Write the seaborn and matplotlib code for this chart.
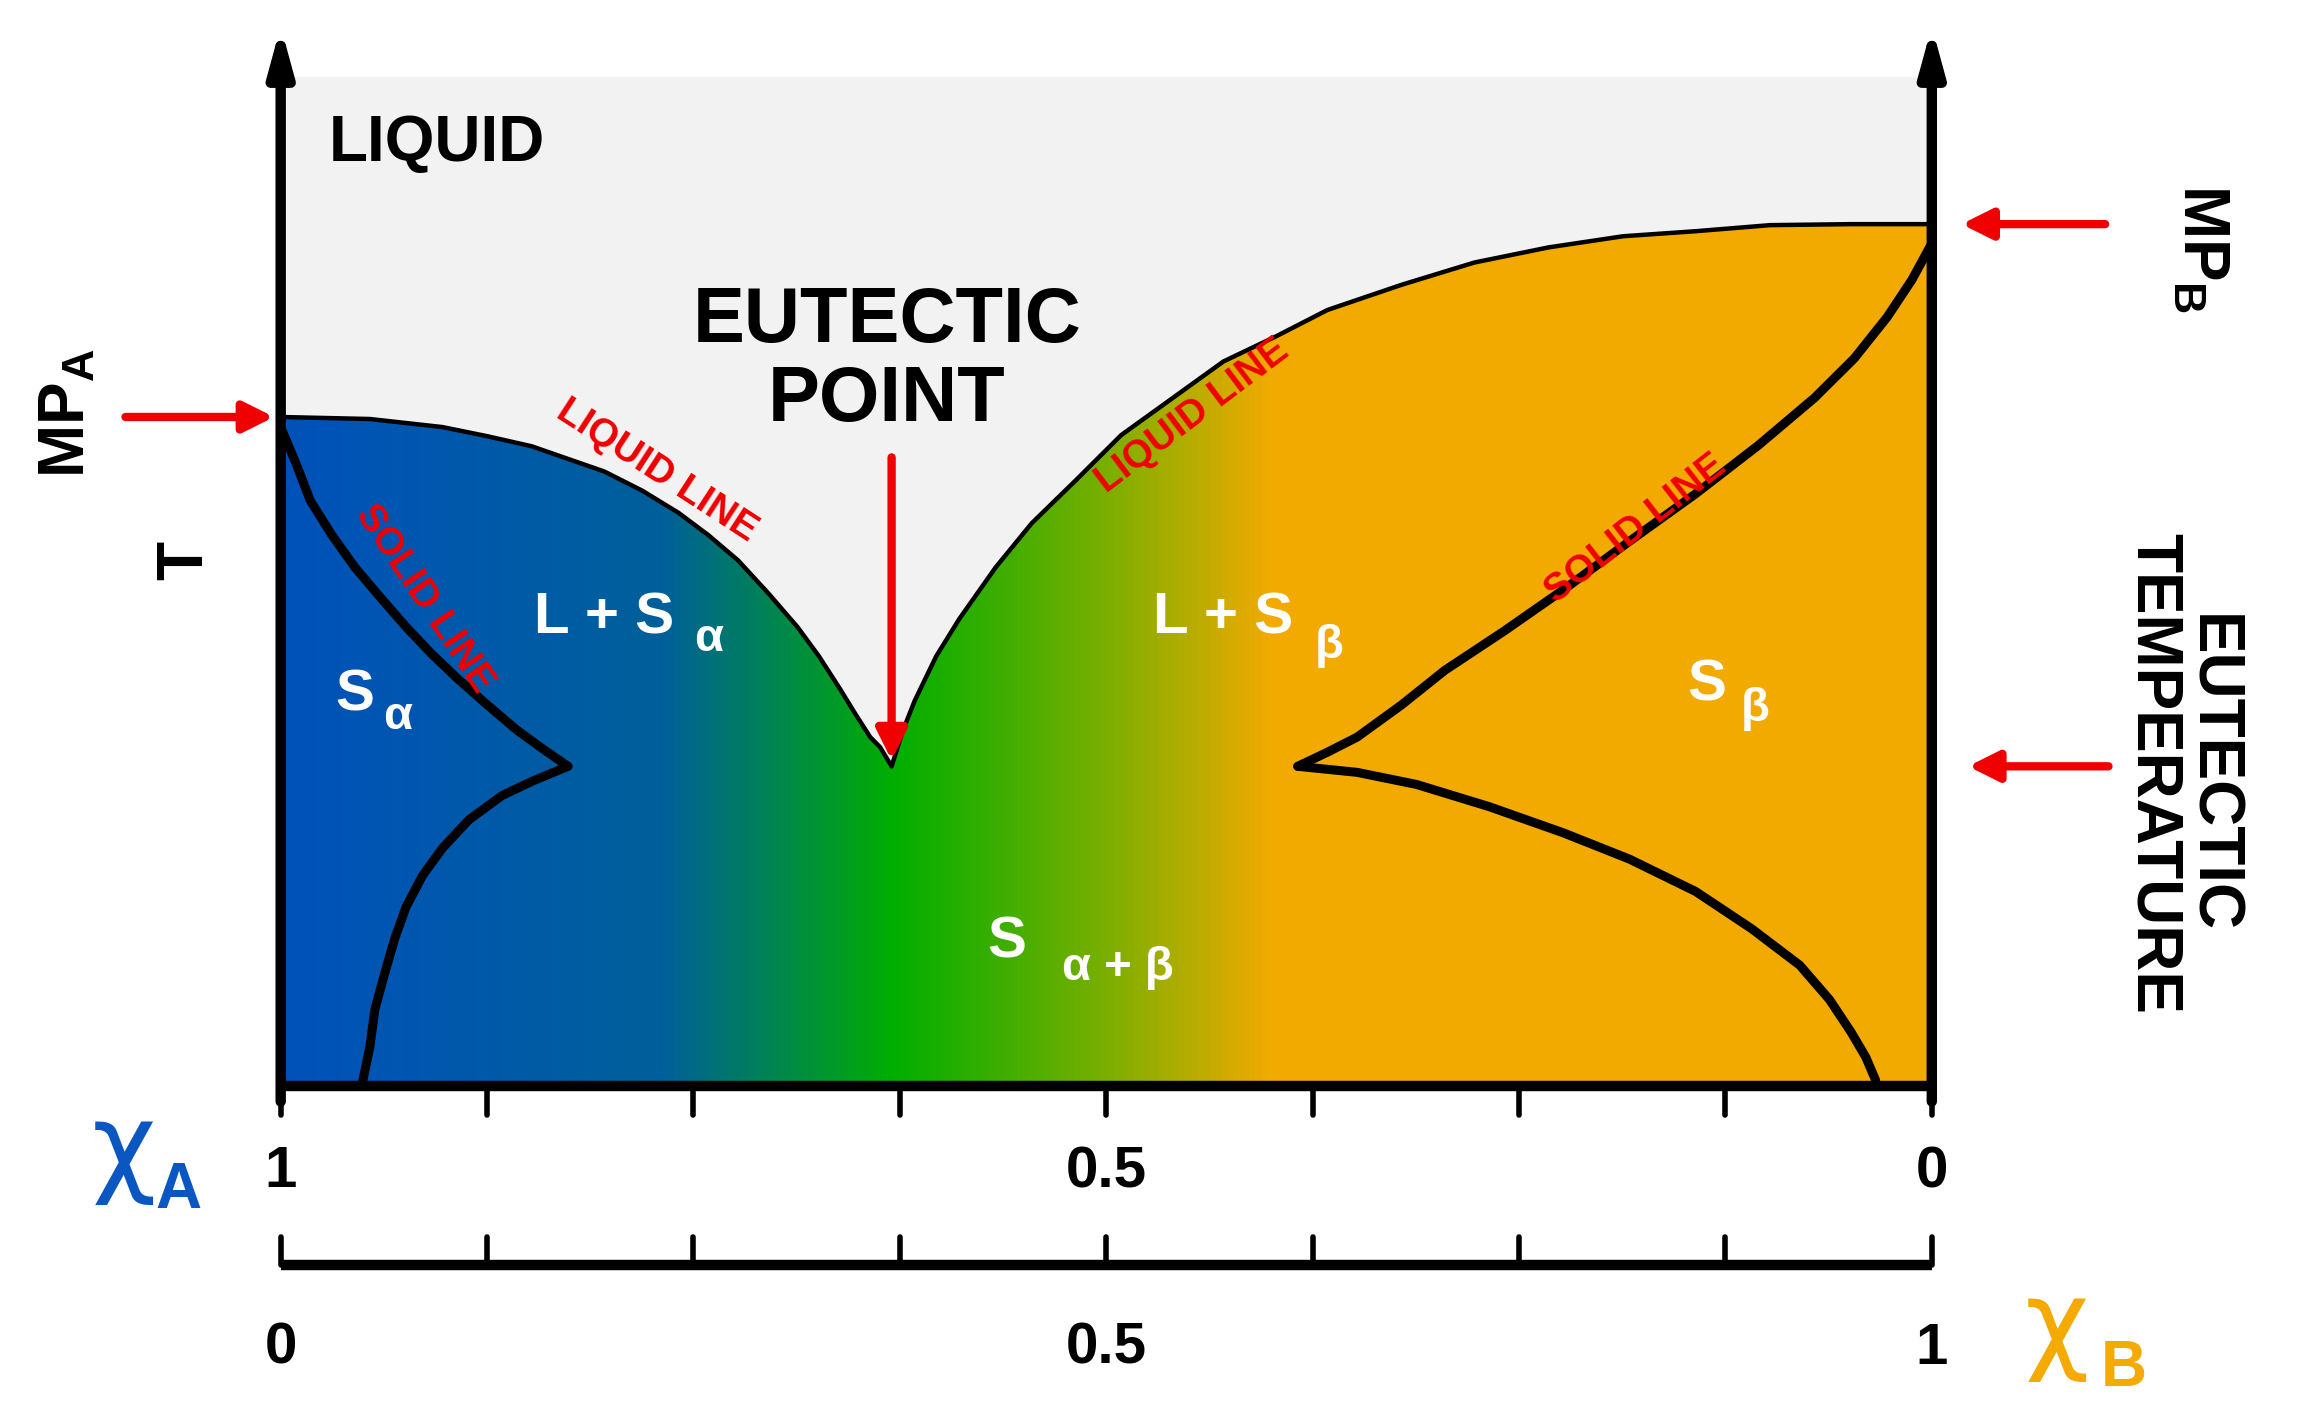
import numpy as np
import pandas as pd
import seaborn as sns
import matplotlib.pyplot as plt
from matplotlib.colors import LinearSegmentedColormap
from matplotlib.patches import Polygon, Rectangle

# phase boundaries, x = mole fraction of B, T in arbitrary units (0 = bottom, 100 = top)
liquid_left_x = [0, .054, .098, .125, .152, .196, .219, .241, .259, .277, .295, .313, .326, .339,
                 .348, .357, .363, .370]
liquid_left_t = [66.3, 66.1, 65.3, 64.4, 63.4, 60.9, 59.0, 56.8, 54.6, 52.1, 48.9, 45.5, 42.6, 39.3,
                 36.9, 34.6, 33.6, 31.7]
liquid_right_x = [.370, .377, .384, .397, .411, .433, .455, .482, .509, .571, .603, .634, .679, .723,
                  .768, .813, .857, .902, .951, 1]
liquid_right_t = [31.7, 35.3, 38.2, 42.6, 46.3, 51.4, 55.8, 60.1, 64.5, 71.8, 74.3, 76.9, 79.4, 81.6,
                  83.1, 84.2, 84.7, 85.3, 85.4, 85.4]
solid_left_x = [0, .009, .018, .031, .045, .060, .076, .091, .107, .125, .143, .159, .174]
solid_left_t = [65.3, 61.8, 58.0, 54.6, 51.4, 48.5, 45.5, 42.9, 40.4, 37.8, 35.3, 33.4, 31.7]
solvus_left_x = [.174, .152, .134, .114, .098, .086, .076, .069, .063, .057, .054, .049]
solvus_left_t = [31.7, 30.2, 28.8, 26.4, 23.6, 20.9, 17.8, 14.6, 11.2, 7.6, 3.9, 0]
solid_right_x = [1, .988, .973, .953, .929, .895, .857, .817, .777, .741, .705, .679, .652, .634, .616]
solid_right_t = [83.5, 79.9, 76.2, 72.1, 68.2, 63.5, 58.7, 54.0, 49.2, 45.1, 41.2, 37.8, 34.6, 33.1, 31.7]
solvus_right_x = [.616, .652, .688, .732, .777, .817, .857, .891, .920, .938, .951, .960, .966]
solvus_right_t = [31.7, 31.1, 29.9, 27.7, 25.1, 22.5, 19.3, 15.6, 12.0, 8.6, 5.4, 2.9, 0.6]

eutectic_x, eutectic_t = .370, 31.7
mp_a, mp_b = 66.3, 85.4
tick_pos = [0, .125, .25, .375, .5, .625, .75, .875, 1]
xa_labels = {0: "1", .5: "0.5", 1: "0"}
xb_labels = {0: "0", .5: "0.5", 1: "1"}

grad_pos = [0, .23, .37, .5, .6, 1]
grad_col = ["#0052ba", "#00609a", "#00ae00", "#7aaf00", "#f2aa00", "#f4aa00"]

sns.set_theme(style="white")
plt.rcParams['font.family'] = ['Liberation Sans', 'DejaVu Sans']
plt.rcParams['font.weight'] = 'bold'
plt.rcParams['text.color'] = 'black'

fig = plt.figure(figsize=(23, 14.15), dpi=100)
ax = fig.add_axes([0, 0, 1, 1])
ax.set_xlim(-0.170, 1.223)
ax.set_ylim(-32.55, 107.6)
ax.axis('off')

# liquid background
ax.add_patch(Rectangle((0, 0), 1, 100, facecolor="#f2f2f2", edgecolor="none", zorder=0))

# gradient under liquidus
cmap = LinearSegmentedColormap.from_list("eut", list(zip(grad_pos, grad_col)))
grad = np.linspace(0, 1, 500).reshape(1, -1)
img = ax.imshow(grad, cmap=cmap, extent=[0, 1, 0, 100], aspect='auto', zorder=1, interpolation='bilinear')
poly_x = liquid_left_x + liquid_right_x[1:] + [1, 0]
poly_t = liquid_left_t + liquid_right_t[1:] + [0, 0]
clip = Polygon(np.column_stack([poly_x, poly_t]), closed=True, transform=ax.transData)
img.set_clip_path(clip)

# boundaries
for xs, ts, lw in [(liquid_left_x, liquid_left_t, 3.2), (liquid_right_x, liquid_right_t, 3.2),
                   (solid_left_x, solid_left_t, 6.5), (solvus_left_x, solvus_left_t, 6.5),
                   (solid_right_x, solid_right_t, 6.5), (solvus_right_x, solvus_right_t, 6.5)]:
    d = pd.DataFrame({"x": xs, "t": ts})
    sns.lineplot(data=d, x="x", y="t", sort=False, color="black", lw=lw, ax=ax, zorder=3,
                 solid_capstyle='round', solid_joinstyle='round')
ax.set_xlabel("")
ax.set_ylabel("")

# frame: bottom axis and two vertical arrows
ax.plot([0, 1], [0, 0], color="black", lw=7.5, zorder=4, solid_capstyle='butt')
for xv in [0, 1]:
    ax.annotate("", xy=(xv, 105), xytext=(xv, -1.5),
                arrowprops=dict(arrowstyle="-|>,head_length=2.2,head_width=0.6", lw=7.5, color="black",
                                shrinkA=0, shrinkB=0), zorder=5)
for tp in tick_pos:
    ax.plot([tp, tp], [0, -2.8], color="black", lw=4, zorder=4)
# second axis
ax.plot([0, 1], [-17.7, -17.7], color="black", lw=7.5, solid_capstyle='butt')
for tp in tick_pos:
    ax.plot([tp, tp], [-17.7, -14.9], color="black", lw=4)
for k, v in xa_labels.items():
    ax.text(k, -8.5, v, ha='center', va='center', fontsize=42, fontweight='bold')
for k, v in xb_labels.items():
    ax.text(k, -26.0, v, ha='center', va='center', fontsize=42, fontweight='bold')
ax.text(-0.095, -6.5, "χ", color="#0b57c2", fontsize=80, ha='center', va='center', fontweight='normal',
        family=['DejaVu Sans'])
ax.text(-0.062, -10.4, "A", color="#0b57c2", fontsize=46, ha='center', va='center')
ax.text(1.076, -24.0, "χ", color="#f4aa00", fontsize=80, ha='center', va='center', fontweight='normal',
        family=['DejaVu Sans'])
ax.text(1.116, -28.0, "B", color="#f4aa00", fontsize=46, ha='center', va='center')

# red arrows
red_arrow = dict(arrowstyle="-|>,head_length=1.5,head_width=0.75", lw=6, color="#f00000",
                 shrinkA=0, shrinkB=0, capstyle='round')
ax.annotate("", xy=(-0.004, mp_a), xytext=(-0.094, mp_a), arrowprops=red_arrow)
ax.annotate("", xy=(1.018, mp_b), xytext=(1.105, mp_b), arrowprops=red_arrow)
ax.annotate("", xy=(1.022, eutectic_t), xytext=(1.107, eutectic_t), arrowprops=red_arrow)
ax.annotate("", xy=(eutectic_x, eutectic_t + 0.6), xytext=(eutectic_x, 62.3), arrowprops=red_arrow, zorder=6)

# labels
ax.text(.029, 93.3, "LIQUID", fontsize=46, va='center', ha='left')
ax.text(.367, 75.8, "EUTECTIC", fontsize=56, va='center', ha='center')
ax.text(.367, 67.9, "POINT", fontsize=56, va='center', ha='center')
ax.text(-0.129, 66.7, "MP$_\\mathregular{A}$", fontsize=46, rotation=90, va='center', ha='center')
ax.text(-0.058, 52.1, "T", fontsize=46, rotation=90, va='center', ha='center')
ax.text(1.163, 83.0, "MP$_\\mathregular{B}$", fontsize=46, rotation=-90, va='center', ha='center')
ax.text(1.152, 31, "EUTECTIC\nTEMPERATURE", fontsize=46, rotation=-90, va='center', ha='center',
        linespacing=0.95)

white = dict(color="white", va='center', ha='center', zorder=6)
ax.text(.196, 46.3, "L + S", fontsize=42, **white)
ax.text(.259, 44.3, "α", fontsize=34, **white)
ax.text(.045, 38.7, "S", fontsize=42, **white)
ax.text(.071, 36.6, "α", fontsize=34, **white)
ax.text(.571, 46.3, "L + S", fontsize=42, **white)
ax.text(.635, 43.6, "β", fontsize=34, **white)
ax.text(.864, 39.7, "S", fontsize=42, **white)
ax.text(.893, 37.4, "β", fontsize=34, **white)
ax.text(.440, 14.2, "S", fontsize=42, **white)
ax.text(.507, 11.7, "α + β", fontsize=34, **white)

redt = dict(color="#f00000", va='center', ha='center', fontsize=28, zorder=6)
ax.text(.228, 61.0, "LIQUID LINE", rotation=-33, **redt)
ax.text(.552, 66.4, "LIQUID LINE", rotation=37, **redt)
ax.text(.087, 48.3, "SOLID LINE", rotation=-56, **redt)
ax.text(.821, 55.2, "SOLID LINE", rotation=38, **redt)

plt.savefig("out.png", dpi=100)
